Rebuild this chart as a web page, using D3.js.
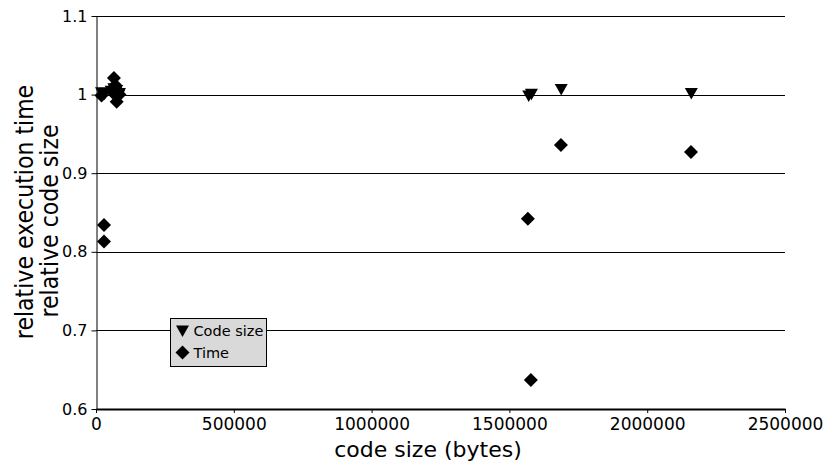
<!DOCTYPE html>
<html><head><meta charset="utf-8">
<script src="https://cdn.jsdelivr.net/npm/d3@7"></script>
<style>body{margin:0;background:#fff}svg{display:block}text{font-family:"DejaVu Sans",sans-serif}</style>
</head><body><svg id="c" width="824" height="467"></svg>
<script>
const codeSizeX = [20000, 30000, 55000, 65000, 70000, 75000, 85000, 1570000, 1580000, 1688000, 2160000];
const codeSizeY = [1.003, 1.001, 1.005, 1.008, 1.0, 1.006, 1.002, 0.999, 1.001, 1.007, 1.002];
const timeX = [20000, 29000, 29000, 60000, 65000, 70000, 75000, 80000, 85000, 1567000, 1578000, 1687000, 2159000];
const timeY = [0.999, 0.834, 0.813, 1.003, 1.021, 1.012, 0.991, 1.005, 1.0, 0.842, 0.637, 0.936, 0.927];
const xTicks = [0, 500000, 1000000, 1500000, 2000000, 2500000];
const yTicks = [0.6, 0.7, 0.8, 0.9, 1.0, 1.1];
const legendLabels = ["Code size", "Time"];

const svg = d3.select("#c");
const L = 96, R = 785, T = 16, B = 409;
const x = d3.scaleLinear().domain([0, 2500000]).range([L, R]);
const y = d3.scaleLinear().domain([0.6, 1.1]).range([B, T]);

// grid lines
svg.append("g").selectAll("line").data(yTicks.filter(d => d > 0.6)).join("line")
  .attr("x1", L).attr("x2", R)
  .attr("y1", d => Math.round(y(d)) + 0.5).attr("y2", d => Math.round(y(d)) + 0.5)
  .attr("stroke", "#000").attr("stroke-width", 1);

// y axis
const yAxis = svg.append("g").attr("transform", `translate(${L + 0.5},0)`)
  .call(d3.axisLeft(y).tickValues(yTicks).tickFormat(d => d === 1 ? "1" : d3.format(".1f")(d)).tickSize(5).tickSizeOuter(0));
yAxis.select(".domain").attr("stroke", "#000");
yAxis.selectAll("text").attr("font-size", 16).attr("fill", "#000").attr("dx", "-1");

// x axis
const xAxis = svg.append("g").attr("transform", `translate(0,${B})`)
  .call(d3.axisBottom(x).tickValues(xTicks).tickFormat(d3.format("d")).tickSize(4).tickSizeOuter(0));
xAxis.select(".domain").attr("stroke", "#000").attr("stroke-width", 2);
xAxis.selectAll("text").attr("font-size", 17).attr("fill", "#000").attr("dy", "0.85em");

// axis titles
svg.append("text").attr("x", 428).attr("y", 457).attr("text-anchor", "middle")
  .attr("font-size", 22).text("code size (bytes)");
svg.append("text").attr("transform", "translate(33,212) rotate(-90) scale(0.9,1)").attr("text-anchor", "middle")
  .attr("font-size", 24.5).text("relative execution time");
svg.append("text").attr("transform", "translate(57.5,221) rotate(-90) scale(0.9,1)").attr("text-anchor", "middle")
  .attr("font-size", 24.5).text("relative code size");

// markers
const tri = "M-6.5,-5L6.5,-5L0,6.5Z";
const dia = "M0,-7L7,0L0,7L-7,0Z";
svg.append("g").selectAll("path").data(d3.range(timeX.length)).join("path")
  .attr("d", dia).attr("fill", "#000")
  .attr("transform", i => `translate(${x(timeX[i])},${y(timeY[i])})`);
svg.append("g").selectAll("path").data(d3.range(codeSizeX.length)).join("path")
  .attr("d", tri).attr("fill", "#000")
  .attr("transform", i => `translate(${x(codeSizeX[i])},${y(codeSizeY[i])})`);

// legend
const lg = svg.append("g").attr("transform", "translate(170.5,318.5)");
lg.append("rect").attr("width", 96).attr("height", 48).attr("fill", "#d9d9d9").attr("stroke", "#000");
lg.append("path").attr("d", tri).attr("transform", "translate(12,12)");
lg.append("path").attr("d", dia).attr("transform", "translate(12,34)");
lg.selectAll("text.l").data(legendLabels).join("text").attr("class", "l")
  .attr("x", 23).attr("y", (d, i) => 17 + i * 22).attr("font-size", 14.5).text(d => d);
</script></body></html>
